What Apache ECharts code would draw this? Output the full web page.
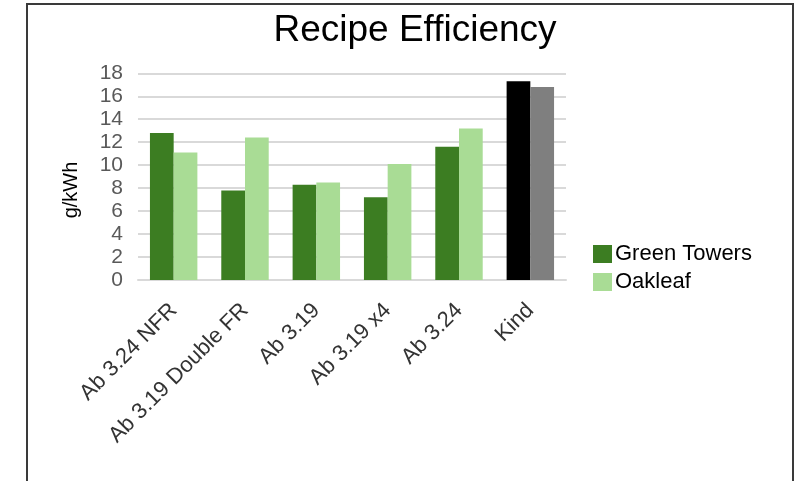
<!DOCTYPE html>
<html>
<head>
<meta charset="utf-8">
<script src="https://cdn.jsdelivr.net/npm/echarts@6/dist/echarts.min.js"></script>
<style>html,body{margin:0;padding:0;background:#fff}#c{width:797px;height:481px}</style>
</head>
<body>
<div id="c"></div>
<script>
const categories = ['Ab 3.24 NFR', 'Ab 3.19 Double FR', 'Ab 3.19', 'Ab 3.19 x4', 'Ab 3.24', 'Kind'];
const greenTowers = [12.8, 7.8, 8.3, 7.2, 11.6, 17.3];
const oakleaf = [11.1, 12.4, 8.5, 10.1, 13.2, 16.8];
const yTicks = [0, 2, 4, 6, 8, 10, 12, 14, 16, 18];

const FONT = '"Liberation Sans", Arial, sans-serif';
const C_GT = '#3c7d22', C_OAK = '#a9dc95', C_KIND1 = '#000000', C_KIND2 = '#7f7f7f';

function mk(vals, base, kindColor) {
  return vals.map((v, i) => categories[i] === 'Kind'
    ? { value: v, itemStyle: { color: kindColor } }
    : { value: v, itemStyle: { color: base } });
}

const chart = echarts.init(document.getElementById('c'), null, { renderer: 'canvas' });
chart.setOption({
  backgroundColor: '#fff',
  animation: false,
  textStyle: { fontFamily: FONT },
  title: {
    text: 'Recipe Efficiency', left: 410, top: 7, textAlign: 'center',
    textStyle: { fontFamily: FONT, fontSize: 37, fontWeight: 'normal', color: '#000' }
  },
  graphic: [{
    type: 'rect', shape: { x: 27, y: 4, width: 766, height: 520 },
    style: { fill: 'none', stroke: '#3a3a3a', lineWidth: 2 }, silent: true
  }, {
    type: 'text', x: 71, y: 190, rotation: Math.PI / 2, silent: true,
    style: { text: 'g/kWh', fontFamily: FONT, fontSize: 20, fill: '#000', align: 'center', verticalAlign: 'middle' }
  }],
  legend: {
    orient: 'vertical', left: 593, top: 243, padding: 0,
    itemWidth: 19, itemHeight: 18, itemGap: 6,
    icon: 'rect',
    textStyle: { fontFamily: FONT, fontSize: 22, color: '#000', padding: [0, 0, 0, -2] },
    data: ['Green Towers', 'Oakleaf']
  },
  grid: { left: 138, right: 231, top: 73.3, bottom: 201 },
  xAxis: {
    type: 'category', data: categories,
    axisLine: { show: true, lineStyle: { color: '#d9d9d9', width: 2 } },
    axisTick: { show: false },
    axisLabel: { rotate: 45, interval: 0, margin: 27, fontSize: 22, color: '#333', fontFamily: FONT }
  },
  yAxis: {
    type: 'value', min: 0, max: 18, interval: 2,
    axisLine: { show: false }, axisTick: { show: false },
    splitLine: { lineStyle: { color: '#d9d9d9', width: 2 } },
    axisLabel: {
      fontSize: 21, color: '#595959', margin: 15, fontFamily: FONT,
      formatter: v => yTicks.includes(v) ? String(v) : ''
    }
  },
  series: [
    { name: 'Green Towers', type: 'bar', data: mk(greenTowers, C_GT, C_KIND1), itemStyle: { color: C_GT }, barGap: '0%', barCategoryGap: '33.5%' },
    { name: 'Oakleaf', type: 'bar', data: mk(oakleaf, C_OAK, C_KIND2), itemStyle: { color: C_OAK }, barGap: '0%', barCategoryGap: '33.5%' }
  ]
});
</script>
</body>
</html>
